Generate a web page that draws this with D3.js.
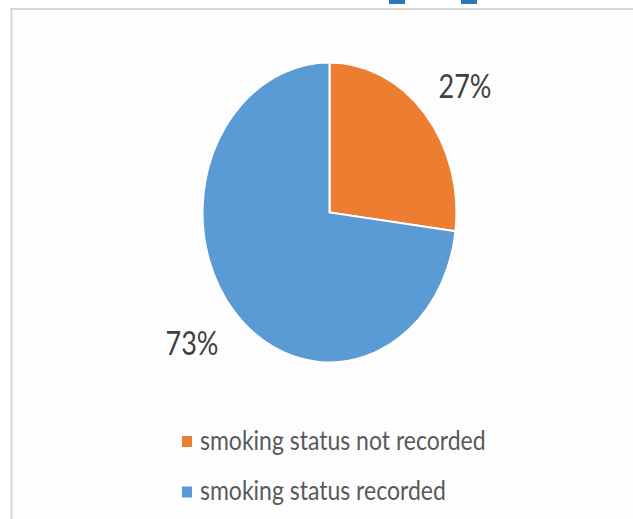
<!DOCTYPE html>
<html>
<head>
<meta charset="utf-8">
<script src="https://cdn.jsdelivr.net/npm/d3@7"></script>
<style>
  html, body { margin: 0; padding: 0; background: #ffffff; }
  svg { display: block; }
  text { font-family: Lato, "Noto Sans", sans-serif; }
</style>
</head>
<body>
<svg id="chart" width="633" height="519"></svg>
<script>
// Smoking status recording share
const categories = ["smoking status not recorded", "smoking status recorded"];
const values = [27, 73];
const valueLabels = ["27%", "73%"];
const colors = ["#ed7d31", "#5b9bd5"];

const W = 633, H = 519;
const svg = d3.select("#chart");

// Vertical stretch of the whole drawing (pie is an ellipse)
const sy = 150 / 127;
const cx = 329.5, cy = 212.5, r = 127;

// chart frame
svg.append("rect")
  .attr("x", 0).attr("y", 0).attr("width", W).attr("height", H)
  .attr("fill", "#ffffff");
svg.append("rect")
  .attr("x", 11.5).attr("y", 9).attr("width", 700).attr("height", 520)
  .attr("fill", "#fdfdfd")
  .attr("stroke", "#d6d6d6").attr("stroke-width", 2);

// small blue tabs cut off at the top edge
[[389, 16], [461, 16]].forEach(([x, w]) => {
  svg.append("rect").attr("x", x).attr("y", 0).attr("width", w).attr("height", 4)
    .attr("fill", "#2e75b6");
});

const pie = d3.pie().sort(null).value(d => d)(values);
const arc = d3.arc().innerRadius(0).outerRadius(r);
const labelArc = d3.arc().innerRadius(174).outerRadius(174);

const g = svg.append("g")
  .attr("transform", `translate(${cx},${cy}) scale(1,${sy})`);

g.selectAll("path.slice")
  .data(pie)
  .join("path")
  .attr("class", "slice")
  .attr("d", arc)
  .attr("fill", (d, i) => colors[i])
  .attr("stroke", "#ffffff")
  .attr("stroke-width", 2)
  .attr("vector-effect", "non-scaling-stroke");

// percentage labels
const labelNudge = [[5, 10], [-7, -5]];
pie.forEach((d, i) => {
  const [lx, ly] = labelArc.centroid(d);
  const x = cx + lx + labelNudge[i][0];
  const y = cy + ly * sy + labelNudge[i][1];
  svg.append("text")
    .attr("transform", `translate(${x},${y}) scale(1,${sy})`)
    .attr("text-anchor", "middle")
    .attr("dy", "0.35em")
    .attr("font-size", 27)
    .attr("fill", "#404040")
    .text(valueLabels[i]);
});

// legend
const legend = svg.append("g");
categories.forEach((c, i) => {
  const y = 441.5 + i * 50.5;
  legend.append("rect")
    .attr("x", 182).attr("y", y - 5.5)
    .attr("width", 10).attr("height", 11)
    .attr("fill", colors[i]);
  legend.append("text")
    .attr("transform", `translate(200,${y + 8}) scale(1,${sy})`)
    .attr("font-size", 23)
    .attr("fill", "#595959")
    .text(c);
});
</script>
</body>
</html>
